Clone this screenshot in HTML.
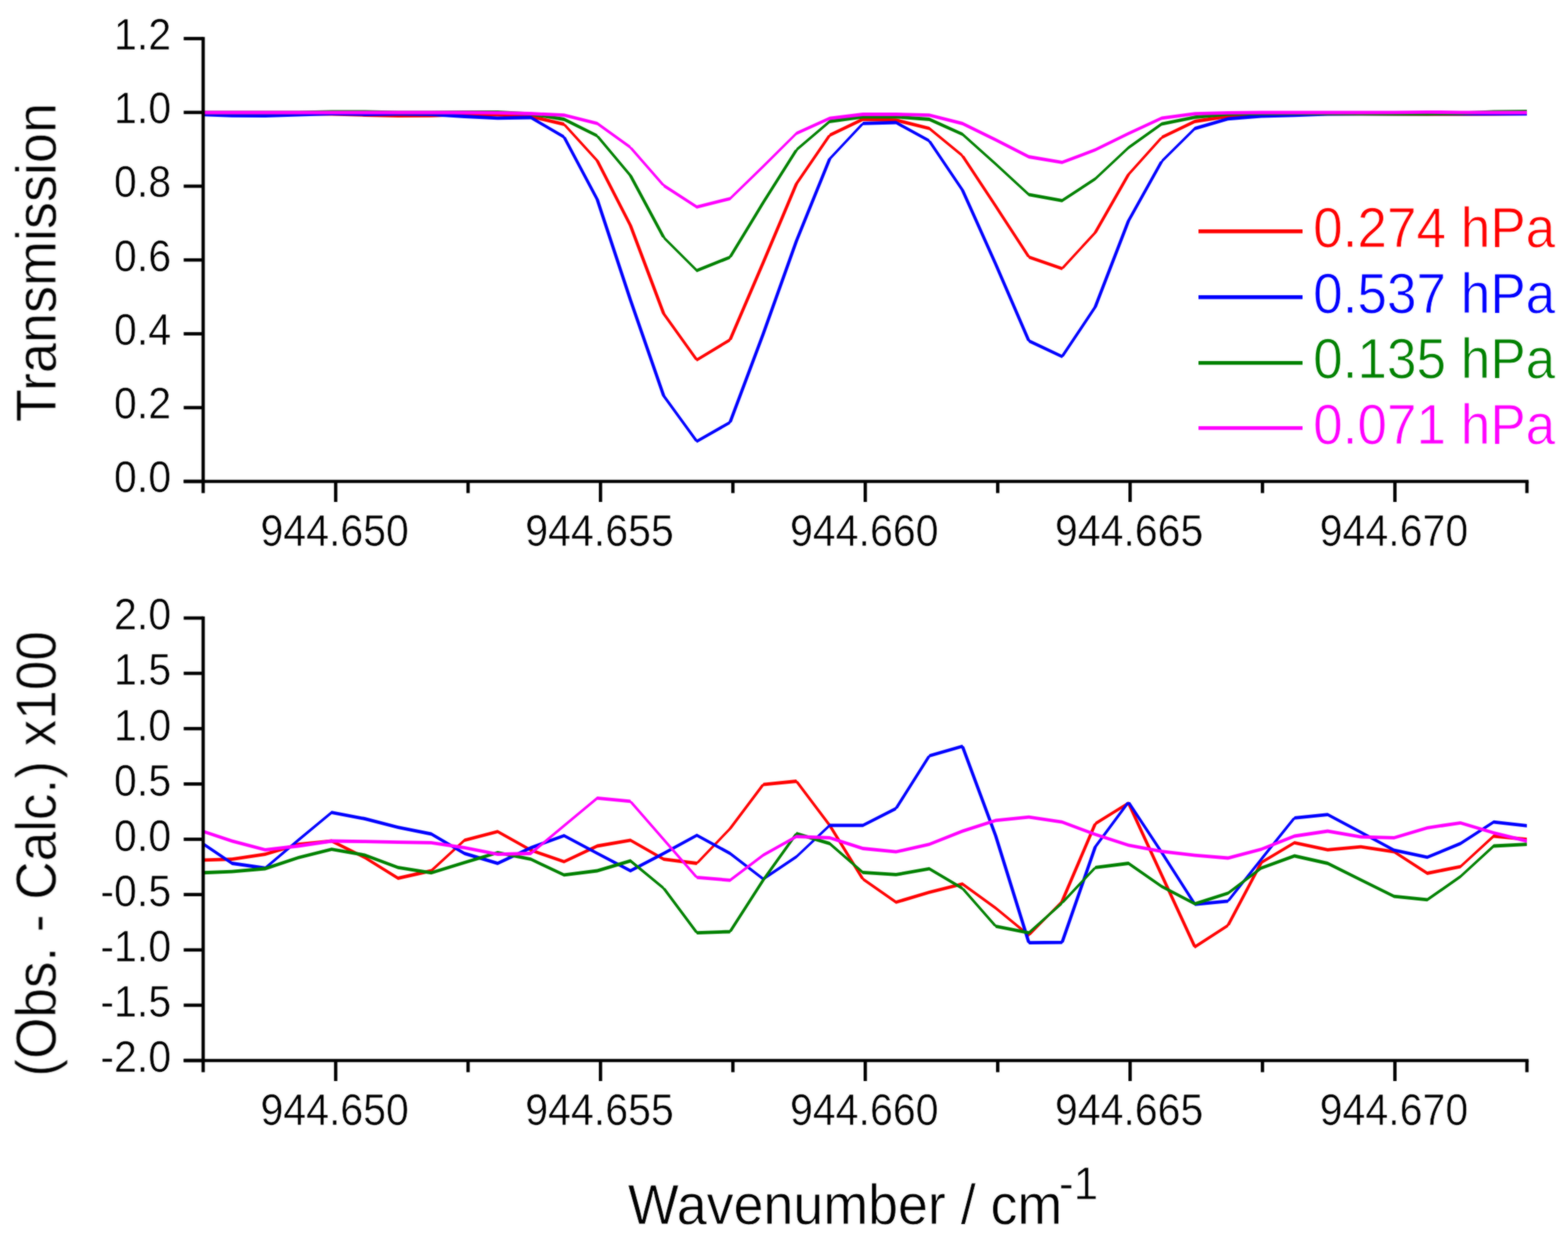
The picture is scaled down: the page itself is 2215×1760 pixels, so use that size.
<!DOCTYPE html>
<html lang="en"><head><meta charset="utf-8"><title>Transmission spectra and residuals</title>
<style>
html,body{margin:0;padding:0;background:#fff;}
body{width:2215px;height:1760px;overflow:hidden;}
svg{display:block;}
text{font-family:"Liberation Sans",sans-serif;}
text{paint-order:fill stroke;stroke:#fff;stroke-linejoin:round;}
.tick{font-size:58px;fill:#000;stroke-width:0.6px;}
.title{font-size:75px;fill:#000;stroke-width:0.8px;}
.leg{font-size:75px;stroke-width:1px;}
</style></head><body>
<svg width="2215" height="1760" viewBox="0 0 2215 1760" role="img" aria-label="Transmission spectra and fit residuals versus wavenumber">
<rect x="0" y="0" width="2215" height="1760" fill="#ffffff"/>
<defs>
<clipPath id="ct"><rect x="287.0" y="54.5" width="1870.0" height="625.5"/></clipPath>
<clipPath id="cb"><rect x="287.0" y="873.0" width="1870.0" height="625.0"/></clipPath>
<filter id="soft" filterUnits="userSpaceOnUse" x="0" y="0" width="2215" height="1760" color-interpolation-filters="sRGB"><feGaussianBlur in="SourceGraphic" stdDeviation="0.8" result="b"/><feComposite in="SourceGraphic" in2="b" operator="arithmetic" k1="0" k2="0.45" k3="0.55" k4="0"/></filter>
</defs>
<g filter="url(#soft)">
<g clip-path="url(#ct)">
<path fill="#ff0000" d="M280.9 157.6L327.8 157.6L327.8 162.4L280.9 162.4ZM327.8 157.6L374.7 157.6L374.7 162.4L327.8 162.4ZM374.7 157.6L421.6 158.1L421.6 162.9L374.7 162.4ZM421.6 158.1L468.5 158.6L468.5 163.4L421.6 162.9ZM468.5 158.6L515.4 160.1L515.4 164.9L468.5 163.4ZM515.4 160.1L562.3 161.1L562.3 165.9L515.4 164.9ZM562.3 161.1L609.2 160.9L609.2 165.7L562.3 165.9ZM609.2 160.9L656.1 159.1L656.1 163.9L609.2 165.7ZM656.1 159.1L703.0 159.6L703.0 164.4L656.1 163.9ZM703.0 159.6L749.9 162.1L749.9 166.9L703.0 164.4ZM749.9 162.1L796.8 173.1L796.8 177.9L749.9 166.9ZM799.2 175.5L846.1 226.9L841.3 226.9L794.4 175.5ZM795.1 175.5L796.8 173.8L798.5 175.5L796.8 177.2ZM846.1 226.9L893.0 318.5L888.2 318.5L841.3 226.9ZM893.0 318.5L939.9 443.0L935.1 443.0L888.2 318.5ZM939.9 443.0L986.8 508.4L982.0 508.4L935.1 443.0ZM984.4 506.0L1031.3 477.6L1031.3 482.4L984.4 510.8ZM982.7 508.4L984.4 506.7L986.1 508.4L984.4 510.1ZM1028.9 480.0L1075.8 370.8L1080.6 370.8L1033.7 480.0ZM1029.6 480.0L1031.3 478.3L1033.0 480.0L1031.3 481.7ZM1075.8 370.8L1122.7 259.6L1127.5 259.6L1080.6 370.8ZM1122.7 259.6L1169.6 191.0L1174.4 191.0L1127.5 259.6ZM1172.0 188.6L1218.9 166.1L1218.9 170.9L1172.0 193.4ZM1170.3 191.0L1172.0 189.3L1173.7 191.0L1172.0 192.7ZM1218.9 166.1L1265.8 167.3L1265.8 172.1L1218.9 170.9ZM1265.8 167.3L1312.7 179.0L1312.7 183.8L1265.8 172.1ZM1312.7 179.0L1359.6 217.5L1359.6 222.3L1312.7 183.8ZM1362.0 219.9L1408.9 291.1L1404.1 291.1L1357.2 219.9ZM1357.9 219.9L1359.6 218.2L1361.3 219.9L1359.6 221.6ZM1408.9 291.1L1455.8 363.1L1451.0 363.1L1404.1 291.1ZM1453.4 360.7L1500.3 377.0L1500.3 381.8L1453.4 365.5ZM1451.7 363.1L1453.4 361.4L1455.1 363.1L1453.4 364.8ZM1497.9 379.4L1544.8 328.5L1549.6 328.5L1502.7 379.4ZM1498.6 379.4L1500.3 377.7L1502.0 379.4L1500.3 381.1ZM1544.8 328.5L1591.7 246.6L1596.5 246.6L1549.6 328.5ZM1591.7 246.6L1638.6 194.2L1643.4 194.2L1596.5 246.6ZM1641.0 191.8L1687.9 169.1L1687.9 173.9L1641.0 196.6ZM1639.3 194.2L1641.0 192.5L1642.7 194.2L1641.0 195.9ZM1687.9 169.1L1734.8 161.9L1734.8 166.7L1687.9 173.9ZM1734.8 161.9L1781.7 159.4L1781.7 164.2L1734.8 166.7ZM1781.7 159.4L1828.6 158.4L1828.6 163.2L1781.7 164.2ZM1828.6 158.4L1875.5 158.4L1875.5 163.2L1828.6 163.2ZM1875.5 158.4L1922.4 158.4L1922.4 163.2L1875.5 163.2ZM1922.4 158.4L1969.3 158.6L1969.3 163.4L1922.4 163.2ZM1969.3 158.6L2016.2 158.9L2016.2 163.7L1969.3 163.4ZM2016.2 158.9L2063.1 158.9L2063.1 163.7L2016.2 163.7ZM2063.1 158.9L2110.0 158.6L2110.0 163.4L2063.1 163.7ZM2110.0 158.6L2156.9 158.1L2156.9 162.9L2110.0 163.4Z"/>
<path fill="#0000ff" d="M280.9 159.1L327.8 160.9L327.8 165.7L280.9 163.9ZM327.8 160.9L374.7 161.1L374.7 165.9L327.8 165.7ZM374.7 161.1L421.6 159.6L421.6 164.4L374.7 165.9ZM421.6 159.6L468.5 158.1L468.5 162.9L421.6 164.4ZM468.5 158.1L515.4 159.1L515.4 163.9L468.5 162.9ZM515.4 159.1L562.3 158.6L562.3 163.4L515.4 163.9ZM562.3 158.6L609.2 159.1L609.2 163.9L562.3 163.4ZM609.2 159.1L656.1 162.1L656.1 166.9L609.2 163.9ZM656.1 162.1L703.0 164.4L703.0 169.2L656.1 166.9ZM703.0 164.4L749.9 163.6L749.9 168.4L703.0 169.2ZM749.9 163.6L796.8 191.1L796.8 195.9L749.9 168.4ZM799.2 193.5L846.1 281.8L841.3 281.8L794.4 193.5ZM795.1 193.5L796.8 191.8L798.5 193.5L796.8 195.2ZM846.1 281.8L893.0 423.8L888.2 423.8L841.3 281.8ZM893.0 423.8L939.9 558.9L935.1 558.9L888.2 423.8ZM939.9 558.9L986.8 623.4L982.0 623.4L935.1 558.9ZM984.4 621.0L1031.3 594.2L1031.3 599.0L984.4 625.8ZM982.7 623.4L984.4 621.7L986.1 623.4L984.4 625.1ZM1028.9 596.6L1075.8 471.5L1080.6 471.5L1033.7 596.6ZM1029.6 596.6L1031.3 594.9L1033.0 596.6L1031.3 598.3ZM1075.8 471.5L1122.7 340.2L1127.5 340.2L1080.6 471.5ZM1122.7 340.2L1169.6 224.6L1174.4 224.6L1127.5 340.2ZM1169.6 224.6L1216.5 174.4L1221.3 174.4L1174.4 224.6ZM1218.9 172.0L1265.8 170.8L1265.8 175.6L1218.9 176.8ZM1217.2 174.4L1218.9 172.7L1220.6 174.4L1218.9 176.1ZM1265.8 170.8L1312.7 196.5L1312.7 201.3L1265.8 175.6ZM1315.1 198.9L1362.0 268.4L1357.2 268.4L1310.3 198.9ZM1311.0 198.9L1312.7 197.2L1314.4 198.9L1312.7 200.6ZM1362.0 268.4L1408.9 372.9L1404.1 372.9L1357.2 268.4ZM1408.9 372.9L1455.8 481.5L1451.0 481.5L1404.1 372.9ZM1453.4 479.1L1500.3 501.3L1500.3 506.1L1453.4 483.9ZM1451.7 481.5L1453.4 479.8L1455.1 481.5L1453.4 483.2ZM1497.9 503.7L1544.8 433.6L1549.6 433.6L1502.7 503.7ZM1498.6 503.7L1500.3 502.0L1502.0 503.7L1500.3 505.4ZM1544.8 433.6L1591.7 312.1L1596.5 312.1L1549.6 433.6ZM1591.7 312.1L1638.6 228.0L1643.4 228.0L1596.5 312.1ZM1641.0 225.6L1687.9 179.1L1687.9 183.9L1641.0 230.4ZM1639.3 228.0L1641.0 226.3L1642.7 228.0L1641.0 229.7ZM1687.9 179.1L1734.8 165.4L1734.8 170.2L1687.9 183.9ZM1734.8 165.4L1781.7 161.6L1781.7 166.4L1734.8 170.2ZM1781.7 161.6L1828.6 160.4L1828.6 165.2L1781.7 166.4ZM1828.6 160.4L1875.5 158.8L1875.5 163.6L1828.6 165.2ZM1875.5 158.8L1922.4 158.4L1922.4 163.2L1875.5 163.6ZM1922.4 158.4L1969.3 158.4L1969.3 163.2L1922.4 163.2ZM1969.3 158.4L2016.2 158.4L2016.2 163.2L1969.3 163.2ZM2016.2 158.4L2063.1 158.4L2063.1 163.2L2016.2 163.2ZM2063.1 158.4L2110.0 158.4L2110.0 163.2L2063.1 163.2ZM2110.0 158.4L2156.9 158.4L2156.9 163.2L2110.0 163.2Z"/>
<path fill="#008000" d="M280.9 156.6L327.8 156.6L327.8 161.4L280.9 161.4ZM327.8 156.6L374.7 156.6L374.7 161.4L327.8 161.4ZM374.7 156.6L421.6 156.4L421.6 161.2L374.7 161.4ZM421.6 156.4L468.5 155.4L468.5 160.2L421.6 161.2ZM468.5 155.4L515.4 155.4L515.4 160.2L468.5 160.2ZM515.4 155.4L562.3 156.6L562.3 161.4L515.4 160.2ZM562.3 156.6L609.2 156.6L609.2 161.4L562.3 161.4ZM609.2 156.6L656.1 156.1L656.1 160.9L609.2 161.4ZM656.1 156.1L703.0 156.1L703.0 160.9L656.1 160.9ZM703.0 156.1L749.9 158.6L749.9 163.4L703.0 160.9ZM749.9 158.6L796.8 166.1L796.8 170.9L749.9 163.4ZM796.8 166.1L843.7 189.5L843.7 194.3L796.8 170.9ZM846.1 191.9L893.0 247.9L888.2 247.9L841.3 191.9ZM842.0 191.9L843.7 190.2L845.4 191.9L843.7 193.6ZM893.0 247.9L939.9 335.3L935.1 335.3L888.2 247.9ZM937.5 332.9L984.4 379.8L984.4 384.6L937.5 337.7ZM935.8 335.3L937.5 333.6L939.2 335.3L937.5 337.0ZM984.4 379.8L1031.3 360.9L1031.3 365.7L984.4 384.6ZM1028.9 363.3L1075.8 286.1L1080.6 286.1L1033.7 363.3ZM1029.6 363.3L1031.3 361.6L1033.0 363.3L1031.3 365.0ZM1075.8 286.1L1122.7 211.7L1127.5 211.7L1080.6 286.1ZM1125.1 209.3L1172.0 169.2L1172.0 174.0L1125.1 214.1ZM1123.4 211.7L1125.1 210.0L1126.8 211.7L1125.1 213.4ZM1172.0 169.2L1218.9 162.6L1218.9 167.4L1172.0 174.0ZM1218.9 162.6L1265.8 162.6L1265.8 167.4L1218.9 167.4ZM1265.8 162.6L1312.7 166.1L1312.7 170.9L1265.8 167.4ZM1312.7 166.1L1359.6 187.2L1359.6 192.0L1312.7 170.9ZM1359.6 187.2L1406.5 229.2L1406.5 234.0L1359.6 192.0ZM1406.5 229.2L1453.4 272.4L1453.4 277.2L1406.5 234.0ZM1453.4 272.4L1500.3 281.0L1500.3 285.8L1453.4 277.2ZM1500.3 281.0L1547.2 250.2L1547.2 255.0L1500.3 285.8ZM1547.2 250.2L1594.1 206.2L1594.1 211.0L1547.2 255.0ZM1594.1 206.2L1641.0 172.8L1641.0 177.6L1594.1 211.0ZM1641.0 172.8L1687.9 163.2L1687.9 168.0L1641.0 177.6ZM1687.9 163.2L1734.8 158.8L1734.8 163.6L1687.9 168.0ZM1734.8 158.8L1781.7 157.9L1781.7 162.7L1734.8 163.6ZM1781.7 157.9L1828.6 157.6L1828.6 162.4L1781.7 162.7ZM1828.6 157.6L1875.5 157.9L1875.5 162.7L1828.6 162.4ZM1875.5 157.9L1922.4 158.1L1922.4 162.9L1875.5 162.7ZM1922.4 158.1L1969.3 158.4L1969.3 163.2L1922.4 162.9ZM1969.3 158.4L2016.2 158.4L2016.2 163.2L1969.3 163.2ZM2016.2 158.4L2063.1 157.6L2063.1 162.4L2016.2 163.2ZM2063.1 157.6L2110.0 155.4L2110.0 160.2L2063.1 162.4ZM2110.0 155.4L2156.9 155.1L2156.9 159.9L2110.0 160.2Z"/>
<path fill="#ff00ff" d="M280.9 156.6L327.8 156.6L327.8 161.4L280.9 161.4ZM327.8 156.6L374.7 156.6L374.7 161.4L327.8 161.4ZM374.7 156.6L421.6 156.6L421.6 161.4L374.7 161.4ZM421.6 156.6L468.5 156.6L468.5 161.4L421.6 161.4ZM468.5 156.6L515.4 156.6L515.4 161.4L468.5 161.4ZM515.4 156.6L562.3 156.6L562.3 161.4L515.4 161.4ZM562.3 156.6L609.2 156.6L609.2 161.4L562.3 161.4ZM609.2 156.6L656.1 156.6L656.1 161.4L609.2 161.4ZM656.1 156.6L703.0 156.9L703.0 161.7L656.1 161.4ZM703.0 156.9L749.9 158.1L749.9 162.9L703.0 161.7ZM749.9 158.1L796.8 160.3L796.8 165.1L749.9 162.9ZM796.8 160.3L843.7 172.0L843.7 176.8L796.8 165.1ZM843.7 172.0L890.6 205.8L890.6 210.6L843.7 176.8ZM893.0 208.2L939.9 262.0L935.1 262.0L888.2 208.2ZM888.9 208.2L890.6 206.5L892.3 208.2L890.6 209.9ZM937.5 259.6L984.4 289.9L984.4 294.7L937.5 264.4ZM935.8 262.0L937.5 260.3L939.2 262.0L937.5 263.7ZM984.4 289.9L1031.3 278.2L1031.3 283.0L984.4 294.7ZM1031.3 278.2L1078.2 232.6L1078.2 237.4L1031.3 283.0ZM1078.2 232.6L1125.1 186.0L1125.1 190.8L1078.2 237.4ZM1125.1 186.0L1172.0 164.8L1172.0 169.6L1125.1 190.8ZM1172.0 164.8L1218.9 159.1L1218.9 163.9L1172.0 169.6ZM1218.9 159.1L1265.8 159.1L1265.8 163.9L1218.9 163.9ZM1265.8 159.1L1312.7 160.3L1312.7 165.1L1265.8 163.9ZM1312.7 160.3L1359.6 172.1L1359.6 176.9L1312.7 165.1ZM1359.6 172.1L1406.5 195.1L1406.5 199.9L1359.6 176.9ZM1406.5 195.1L1453.4 219.1L1453.4 223.9L1406.5 199.9ZM1453.4 219.1L1500.3 226.9L1500.3 231.7L1453.4 223.9ZM1500.3 226.9L1547.2 209.3L1547.2 214.1L1500.3 231.7ZM1547.2 209.3L1594.1 186.3L1594.1 191.1L1547.2 214.1ZM1594.1 186.3L1641.0 164.5L1641.0 169.3L1594.1 191.1ZM1641.0 164.5L1687.9 158.3L1687.9 163.1L1641.0 169.3ZM1687.9 158.3L1734.8 157.0L1734.8 161.8L1687.9 163.1ZM1734.8 157.0L1781.7 156.6L1781.7 161.4L1734.8 161.8ZM1781.7 156.6L1828.6 156.6L1828.6 161.4L1781.7 161.4ZM1828.6 156.6L1875.5 156.6L1875.5 161.4L1828.6 161.4ZM1875.5 156.6L1922.4 156.6L1922.4 161.4L1875.5 161.4ZM1922.4 156.6L1969.3 156.4L1969.3 161.2L1922.4 161.4ZM1969.3 156.4L2016.2 155.9L2016.2 160.7L1969.3 161.2ZM2016.2 155.9L2063.1 156.4L2063.1 161.2L2016.2 160.7ZM2063.1 156.4L2110.0 156.6L2110.0 161.4L2063.1 161.2ZM2110.0 156.6L2156.9 156.6L2156.9 161.4L2110.0 161.4Z"/>
</g>
<g clip-path="url(#cb)">
<path fill="#ff0000" d="M280.9 1212.6L327.8 1211.3L327.8 1216.1L280.9 1217.4ZM327.8 1211.3L374.7 1204.3L374.7 1209.1L327.8 1216.1ZM374.7 1204.3L421.6 1190.3L421.6 1195.1L374.7 1209.1ZM421.6 1190.3L468.5 1185.6L468.5 1190.4L421.6 1195.1ZM468.5 1185.6L515.4 1208.9L515.4 1213.7L468.5 1190.4ZM515.4 1208.9L562.3 1238.1L562.3 1242.9L515.4 1213.7ZM562.3 1238.1L609.2 1227.6L609.2 1232.4L562.3 1242.9ZM609.2 1227.6L656.1 1184.4L656.1 1189.2L609.2 1232.4ZM656.1 1184.4L703.0 1172.3L703.0 1177.1L656.1 1189.2ZM703.0 1172.3L749.9 1198.4L749.9 1203.2L703.0 1177.1ZM749.9 1198.4L796.8 1214.8L796.8 1219.6L749.9 1203.2ZM796.8 1214.8L843.7 1192.6L843.7 1197.4L796.8 1219.6ZM843.7 1192.6L890.6 1184.4L890.6 1189.2L843.7 1197.4ZM890.6 1184.4L937.5 1211.3L937.5 1216.1L890.6 1189.2ZM937.5 1211.3L984.4 1217.1L984.4 1221.9L937.5 1216.1ZM982.0 1219.5L1028.9 1170.5L1033.7 1170.5L986.8 1219.5ZM982.7 1219.5L984.4 1217.8L986.1 1219.5L984.4 1221.2ZM1028.9 1170.5L1075.8 1108.1L1080.6 1108.1L1033.7 1170.5ZM1078.2 1105.7L1125.1 1101.1L1125.1 1105.9L1078.2 1110.5ZM1076.5 1108.1L1078.2 1106.4L1079.9 1108.1L1078.2 1109.8ZM1127.5 1103.5L1174.4 1165.8L1169.6 1165.8L1122.7 1103.5ZM1123.4 1103.5L1125.1 1101.8L1126.8 1103.5L1125.1 1105.2ZM1174.4 1165.8L1221.3 1241.7L1216.5 1241.7L1169.6 1165.8ZM1218.9 1239.3L1265.8 1272.0L1265.8 1276.8L1218.9 1244.1ZM1217.2 1241.7L1218.9 1240.0L1220.6 1241.7L1218.9 1243.4ZM1265.8 1272.0L1312.7 1258.0L1312.7 1262.8L1265.8 1276.8ZM1312.7 1258.0L1359.6 1246.3L1359.6 1251.1L1312.7 1262.8ZM1359.6 1246.3L1406.5 1280.2L1406.5 1285.0L1359.6 1251.1ZM1406.5 1280.2L1453.4 1318.7L1453.4 1323.5L1406.5 1285.0ZM1451.0 1321.1L1497.9 1273.2L1502.7 1273.2L1455.8 1321.1ZM1451.7 1321.1L1453.4 1319.4L1455.1 1321.1L1453.4 1322.8ZM1497.9 1273.2L1544.8 1163.5L1549.6 1163.5L1502.7 1273.2ZM1547.2 1161.1L1594.1 1131.9L1594.1 1136.7L1547.2 1165.9ZM1545.5 1163.5L1547.2 1161.8L1548.9 1163.5L1547.2 1165.2ZM1596.5 1134.3L1643.4 1235.9L1638.6 1235.9L1591.7 1134.3ZM1592.4 1134.3L1594.1 1132.6L1595.8 1134.3L1594.1 1136.0ZM1643.4 1235.9L1690.3 1337.5L1685.5 1337.5L1638.6 1235.9ZM1687.9 1335.1L1734.8 1304.7L1734.8 1309.5L1687.9 1339.9ZM1686.2 1337.5L1687.9 1335.8L1689.6 1337.5L1687.9 1339.2ZM1732.4 1307.1L1779.3 1218.4L1784.1 1218.4L1737.2 1307.1ZM1733.1 1307.1L1734.8 1305.4L1736.5 1307.1L1734.8 1308.8ZM1781.7 1216.0L1828.6 1187.9L1828.6 1192.7L1781.7 1220.8ZM1780.0 1218.4L1781.7 1216.7L1783.4 1218.4L1781.7 1220.1ZM1828.6 1187.9L1875.5 1198.0L1875.5 1202.8L1828.6 1192.7ZM1875.5 1198.0L1922.4 1193.8L1922.4 1198.6L1875.5 1202.8ZM1922.4 1193.8L1969.3 1200.8L1969.3 1205.6L1922.4 1198.6ZM1969.3 1200.8L2016.2 1231.1L2016.2 1235.9L1969.3 1205.6ZM2016.2 1231.1L2063.1 1221.8L2063.1 1226.6L2016.2 1235.9ZM2063.1 1221.8L2110.0 1178.6L2110.0 1183.4L2063.1 1226.6ZM2110.0 1178.6L2156.9 1183.3L2156.9 1188.1L2110.0 1183.4Z"/>
<path fill="#0000ff" d="M280.9 1185.5L327.8 1217.1L327.8 1221.9L280.9 1190.3ZM327.8 1217.1L374.7 1223.7L374.7 1228.5L327.8 1221.9ZM374.7 1223.7L421.6 1184.1L421.6 1188.9L374.7 1228.5ZM421.6 1184.1L468.5 1145.2L468.5 1150.0L421.6 1188.9ZM468.5 1145.2L515.4 1154.1L515.4 1158.9L468.5 1150.0ZM515.4 1154.1L562.3 1166.2L562.3 1171.0L515.4 1158.9ZM562.3 1166.2L609.2 1175.6L609.2 1180.4L562.3 1171.0ZM609.2 1175.6L656.1 1203.1L656.1 1207.9L609.2 1180.4ZM656.1 1203.1L703.0 1217.1L703.0 1221.9L656.1 1207.9ZM703.0 1217.1L749.9 1195.1L749.9 1199.9L703.0 1221.9ZM749.9 1195.1L796.8 1177.9L796.8 1182.7L749.9 1199.9ZM796.8 1177.9L843.7 1202.9L843.7 1207.7L796.8 1182.7ZM843.7 1202.9L890.6 1227.6L890.6 1232.4L843.7 1207.7ZM890.6 1227.6L937.5 1203.1L937.5 1207.9L890.6 1232.4ZM937.5 1203.1L984.4 1177.4L984.4 1182.2L937.5 1207.9ZM984.4 1177.4L1031.3 1203.1L1031.3 1207.9L984.4 1182.2ZM1031.3 1203.1L1078.2 1239.3L1078.2 1244.1L1031.3 1207.9ZM1078.2 1239.3L1125.1 1207.8L1125.1 1212.6L1078.2 1244.1ZM1125.1 1207.8L1172.0 1163.4L1172.0 1168.2L1125.1 1212.6ZM1172.0 1163.4L1218.9 1163.4L1218.9 1168.2L1172.0 1168.2ZM1218.9 1163.4L1265.8 1139.6L1265.8 1144.4L1218.9 1168.2ZM1263.4 1142.0L1310.3 1067.7L1315.1 1067.7L1268.2 1142.0ZM1264.1 1142.0L1265.8 1140.3L1267.5 1142.0L1265.8 1143.7ZM1312.7 1065.3L1359.6 1051.8L1359.6 1056.6L1312.7 1070.1ZM1311.0 1067.7L1312.7 1066.0L1314.4 1067.7L1312.7 1069.4ZM1362.0 1054.2L1408.9 1180.5L1404.1 1180.5L1357.2 1054.2ZM1357.9 1054.2L1359.6 1052.5L1361.3 1054.2L1359.6 1055.9ZM1408.9 1180.5L1455.8 1331.6L1451.0 1331.6L1404.1 1180.5ZM1453.4 1329.2L1500.3 1328.8L1500.3 1333.6L1453.4 1334.0ZM1451.7 1331.6L1453.4 1329.9L1455.1 1331.6L1453.4 1333.3ZM1497.9 1331.2L1544.8 1196.2L1549.6 1196.2L1502.7 1331.2ZM1498.6 1331.2L1500.3 1329.5L1502.0 1331.2L1500.3 1332.9ZM1544.8 1196.2L1591.7 1133.1L1596.5 1133.1L1549.6 1196.2ZM1596.5 1133.1L1643.4 1204.0L1638.6 1204.0L1591.7 1133.1ZM1643.4 1204.0L1690.3 1277.3L1685.5 1277.3L1638.6 1204.0ZM1687.9 1274.9L1734.8 1270.4L1734.8 1275.2L1687.9 1279.7ZM1686.2 1277.3L1687.9 1275.6L1689.6 1277.3L1687.9 1279.0ZM1732.4 1272.8L1779.3 1213.7L1784.1 1213.7L1737.2 1272.8ZM1733.1 1272.8L1734.8 1271.1L1736.5 1272.8L1734.8 1274.5ZM1779.3 1213.7L1826.2 1155.3L1831.0 1155.3L1784.1 1213.7ZM1828.6 1152.9L1875.5 1148.2L1875.5 1153.0L1828.6 1157.7ZM1826.9 1155.3L1828.6 1153.6L1830.3 1155.3L1828.6 1157.0ZM1875.5 1148.2L1922.4 1173.2L1922.4 1178.0L1875.5 1153.0ZM1922.4 1173.2L1969.3 1198.4L1969.3 1203.2L1922.4 1178.0ZM1969.3 1198.4L2016.2 1208.5L2016.2 1213.3L1969.3 1203.2ZM2016.2 1208.5L2063.1 1189.1L2063.1 1193.9L2016.2 1213.3ZM2063.1 1189.1L2110.0 1158.7L2110.0 1163.5L2063.1 1193.9ZM2110.0 1158.7L2156.9 1163.9L2156.9 1168.7L2110.0 1163.5Z"/>
<path fill="#008000" d="M280.9 1230.6L327.8 1228.8L327.8 1233.6L280.9 1235.4ZM327.8 1228.8L374.7 1224.6L374.7 1229.4L327.8 1233.6ZM374.7 1224.6L421.6 1208.9L421.6 1213.7L374.7 1229.4ZM421.6 1208.9L468.5 1197.3L468.5 1202.1L421.6 1213.7ZM468.5 1197.3L515.4 1205.4L515.4 1210.2L468.5 1202.1ZM515.4 1205.4L562.3 1223.0L562.3 1227.8L515.4 1210.2ZM562.3 1223.0L609.2 1230.4L609.2 1235.2L562.3 1227.8ZM609.2 1230.4L656.1 1216.0L656.1 1220.8L609.2 1235.2ZM656.1 1216.0L703.0 1201.9L703.0 1206.7L656.1 1220.8ZM703.0 1201.9L749.9 1211.3L749.9 1216.1L703.0 1206.7ZM749.9 1211.3L796.8 1233.5L796.8 1238.3L749.9 1216.1ZM796.8 1233.5L843.7 1227.6L843.7 1232.4L796.8 1238.3ZM843.7 1227.6L890.6 1213.6L890.6 1218.4L843.7 1232.4ZM890.6 1213.6L937.5 1252.2L937.5 1257.0L890.6 1218.4ZM939.9 1254.6L986.8 1317.6L982.0 1317.6L935.1 1254.6ZM935.8 1254.6L937.5 1252.9L939.2 1254.6L937.5 1256.3ZM984.4 1315.2L1031.3 1313.6L1031.3 1318.4L984.4 1320.0ZM982.7 1317.6L984.4 1315.9L986.1 1317.6L984.4 1319.3ZM1028.9 1316.0L1075.8 1242.9L1080.6 1242.9L1033.7 1316.0ZM1029.6 1316.0L1031.3 1314.3L1033.0 1316.0L1031.3 1317.7ZM1075.8 1242.9L1122.7 1177.5L1127.5 1177.5L1080.6 1242.9ZM1125.1 1175.1L1172.0 1189.1L1172.0 1193.9L1125.1 1179.9ZM1123.4 1177.5L1125.1 1175.8L1126.8 1177.5L1125.1 1179.2ZM1172.0 1189.1L1218.9 1230.0L1218.9 1234.8L1172.0 1193.9ZM1218.9 1230.0L1265.8 1233.0L1265.8 1237.8L1218.9 1234.8ZM1265.8 1233.0L1312.7 1224.8L1312.7 1229.6L1265.8 1237.8ZM1312.7 1224.8L1359.6 1252.4L1359.6 1257.2L1312.7 1229.6ZM1362.0 1254.8L1408.9 1308.3L1404.1 1308.3L1357.2 1254.8ZM1357.9 1254.8L1359.6 1253.1L1361.3 1254.8L1359.6 1256.5ZM1406.5 1305.9L1453.4 1315.2L1453.4 1320.0L1406.5 1310.7ZM1404.8 1308.3L1406.5 1306.6L1408.2 1308.3L1406.5 1310.0ZM1453.4 1315.2L1500.3 1273.2L1500.3 1278.0L1453.4 1320.0ZM1497.9 1275.6L1544.8 1225.4L1549.6 1225.4L1502.7 1275.6ZM1498.6 1275.6L1500.3 1273.9L1502.0 1275.6L1500.3 1277.3ZM1547.2 1223.0L1594.1 1217.1L1594.1 1221.9L1547.2 1227.8ZM1545.5 1225.4L1547.2 1223.7L1548.9 1225.4L1547.2 1227.1ZM1594.1 1217.1L1641.0 1249.8L1641.0 1254.6L1594.1 1221.9ZM1641.0 1249.8L1687.9 1274.3L1687.9 1279.1L1641.0 1254.6ZM1687.9 1274.3L1734.8 1259.2L1734.8 1264.0L1687.9 1279.1ZM1734.8 1259.2L1781.7 1223.7L1781.7 1228.5L1734.8 1264.0ZM1781.7 1223.7L1828.6 1206.6L1828.6 1211.4L1781.7 1228.5ZM1828.6 1206.6L1875.5 1217.1L1875.5 1221.9L1828.6 1211.4ZM1875.5 1217.1L1922.4 1240.5L1922.4 1245.3L1875.5 1221.9ZM1922.4 1240.5L1969.3 1263.8L1969.3 1268.6L1922.4 1245.3ZM1969.3 1263.8L2016.2 1268.5L2016.2 1273.3L1969.3 1268.6ZM2016.2 1268.5L2063.1 1235.8L2063.1 1240.6L2016.2 1273.3ZM2063.1 1235.8L2110.0 1192.6L2110.0 1197.4L2063.1 1240.6ZM2110.0 1192.6L2156.9 1190.3L2156.9 1195.1L2110.0 1197.4Z"/>
<path fill="#ff00ff" d="M280.9 1169.9L327.8 1185.6L327.8 1190.4L280.9 1174.7ZM327.8 1185.6L374.7 1198.0L374.7 1202.8L327.8 1190.4ZM374.7 1198.0L421.6 1192.6L421.6 1197.4L374.7 1202.8ZM421.6 1192.6L468.5 1185.6L468.5 1190.4L421.6 1197.4ZM468.5 1185.6L515.4 1186.3L515.4 1191.1L468.5 1190.4ZM515.4 1186.3L562.3 1187.2L562.3 1192.0L515.4 1191.1ZM562.3 1187.2L609.2 1187.9L609.2 1192.7L562.3 1192.0ZM609.2 1187.9L656.1 1194.9L656.1 1199.7L609.2 1192.7ZM656.1 1194.9L703.0 1204.3L703.0 1209.1L656.1 1199.7ZM703.0 1204.3L749.9 1203.1L749.9 1207.9L703.0 1209.1ZM749.9 1203.1L796.8 1163.9L796.8 1168.7L749.9 1207.9ZM796.8 1163.9L843.7 1124.9L843.7 1129.7L796.8 1168.7ZM843.7 1124.9L890.6 1129.5L890.6 1134.3L843.7 1129.7ZM893.0 1131.9L939.9 1185.7L935.1 1185.7L888.2 1131.9ZM888.9 1131.9L890.6 1130.2L892.3 1131.9L890.6 1133.6ZM939.9 1185.7L986.8 1239.4L982.0 1239.4L935.1 1185.7ZM984.4 1237.0L1031.3 1240.9L1031.3 1245.7L984.4 1241.8ZM982.7 1239.4L984.4 1237.7L986.1 1239.4L984.4 1241.1ZM1031.3 1240.9L1078.2 1205.4L1078.2 1210.2L1031.3 1245.7ZM1078.2 1205.4L1125.1 1179.3L1125.1 1184.1L1078.2 1210.2ZM1125.1 1179.3L1172.0 1180.9L1172.0 1185.7L1125.1 1184.1ZM1172.0 1180.9L1218.9 1196.1L1218.9 1200.9L1172.0 1185.7ZM1218.9 1196.1L1265.8 1200.8L1265.8 1205.6L1218.9 1200.9ZM1265.8 1200.8L1312.7 1190.3L1312.7 1195.1L1265.8 1205.6ZM1312.7 1190.3L1359.6 1171.6L1359.6 1176.4L1312.7 1195.1ZM1359.6 1171.6L1406.5 1156.4L1406.5 1161.2L1359.6 1176.4ZM1406.5 1156.4L1453.4 1151.7L1453.4 1156.5L1406.5 1161.2ZM1453.4 1151.7L1500.3 1158.7L1500.3 1163.5L1453.4 1156.5ZM1500.3 1158.7L1547.2 1176.3L1547.2 1181.1L1500.3 1163.5ZM1547.2 1176.3L1594.1 1191.4L1594.1 1196.2L1547.2 1181.1ZM1594.1 1191.4L1641.0 1200.3L1641.0 1205.1L1594.1 1196.2ZM1641.0 1200.3L1687.9 1205.8L1687.9 1210.6L1641.0 1205.1ZM1687.9 1205.8L1734.8 1209.6L1734.8 1214.4L1687.9 1210.6ZM1734.8 1209.6L1781.7 1197.3L1781.7 1202.1L1734.8 1214.4ZM1781.7 1197.3L1828.6 1178.6L1828.6 1183.4L1781.7 1202.1ZM1828.6 1178.6L1875.5 1171.6L1875.5 1176.4L1828.6 1183.4ZM1875.5 1171.6L1922.4 1179.8L1922.4 1184.6L1875.5 1176.4ZM1922.4 1179.8L1969.3 1180.9L1969.3 1185.7L1922.4 1184.6ZM1969.3 1180.9L2016.2 1166.9L2016.2 1171.7L1969.3 1185.7ZM2016.2 1166.9L2063.1 1159.9L2063.1 1164.7L2016.2 1171.7ZM2063.1 1159.9L2110.0 1173.9L2110.0 1178.7L2063.1 1164.7ZM2110.0 1173.9L2156.9 1185.6L2156.9 1190.4L2110.0 1178.7Z"/>
</g>
<g stroke="#000" stroke-width="4.7" fill="none" stroke-linecap="butt">
<line x1="287.0" y1="52.15" x2="287.0" y2="696.5"/>
<line x1="259.5" y1="680.0" x2="2159.35" y2="680.0"/>
<line x1="259.5" y1="680.0" x2="287.0" y2="680.0"/>
<line x1="259.5" y1="575.8" x2="287.0" y2="575.8"/>
<line x1="259.5" y1="471.5" x2="287.0" y2="471.5"/>
<line x1="259.5" y1="367.2" x2="287.0" y2="367.2"/>
<line x1="259.5" y1="263.0" x2="287.0" y2="263.0"/>
<line x1="259.5" y1="158.8" x2="287.0" y2="158.8"/>
<line x1="259.5" y1="54.5" x2="287.0" y2="54.5"/>
<line x1="474.2" y1="680.0" x2="474.2" y2="709.0"/>
<line x1="661.2" y1="680.0" x2="661.2" y2="696.5"/>
<line x1="848.3" y1="680.0" x2="848.3" y2="709.0"/>
<line x1="1035.3" y1="680.0" x2="1035.3" y2="696.5"/>
<line x1="1222.3" y1="680.0" x2="1222.3" y2="709.0"/>
<line x1="1409.4" y1="680.0" x2="1409.4" y2="696.5"/>
<line x1="1596.4" y1="680.0" x2="1596.4" y2="709.0"/>
<line x1="1783.4" y1="680.0" x2="1783.4" y2="696.5"/>
<line x1="1970.5" y1="680.0" x2="1970.5" y2="709.0"/>
<line x1="2157.0" y1="680.0" x2="2157.0" y2="696.5"/>
</g>
<text class="tick" transform="translate(241.7,695.3) scale(1,1.08)" text-anchor="end">0.0</text>
<text class="tick" transform="translate(241.7,591.0) scale(1,1.08)" text-anchor="end">0.2</text>
<text class="tick" transform="translate(241.7,486.8) scale(1,1.08)" text-anchor="end">0.4</text>
<text class="tick" transform="translate(241.7,382.6) scale(1,1.08)" text-anchor="end">0.6</text>
<text class="tick" transform="translate(241.7,278.3) scale(1,1.08)" text-anchor="end">0.8</text>
<text class="tick" transform="translate(241.7,174.1) scale(1,1.08)" text-anchor="end">1.0</text>
<text class="tick" transform="translate(241.7,69.8) scale(1,1.08)" text-anchor="end">1.2</text>
<text class="tick" transform="translate(472.8,771.3) scale(1,1.08)" text-anchor="middle">944.650</text>
<text class="tick" transform="translate(846.9,771.3) scale(1,1.08)" text-anchor="middle">944.655</text>
<text class="tick" transform="translate(1220.9,771.3) scale(1,1.08)" text-anchor="middle">944.660</text>
<text class="tick" transform="translate(1595.0,771.3) scale(1,1.08)" text-anchor="middle">944.665</text>
<text class="tick" transform="translate(1969.1,771.3) scale(1,1.08)" text-anchor="middle">944.670</text>
<g stroke="#000" stroke-width="4.7" fill="none" stroke-linecap="butt">
<line x1="287.0" y1="870.65" x2="287.0" y2="1514.5"/>
<line x1="259.5" y1="1498.0" x2="2159.35" y2="1498.0"/>
<line x1="259.5" y1="1498.0" x2="287.0" y2="1498.0"/>
<line x1="259.5" y1="1419.9" x2="287.0" y2="1419.9"/>
<line x1="259.5" y1="1341.8" x2="287.0" y2="1341.8"/>
<line x1="259.5" y1="1263.6" x2="287.0" y2="1263.6"/>
<line x1="259.5" y1="1185.5" x2="287.0" y2="1185.5"/>
<line x1="259.5" y1="1107.4" x2="287.0" y2="1107.4"/>
<line x1="259.5" y1="1029.2" x2="287.0" y2="1029.2"/>
<line x1="259.5" y1="951.1" x2="287.0" y2="951.1"/>
<line x1="259.5" y1="873.0" x2="287.0" y2="873.0"/>
<line x1="474.2" y1="1498.0" x2="474.2" y2="1527.0"/>
<line x1="661.2" y1="1498.0" x2="661.2" y2="1514.5"/>
<line x1="848.3" y1="1498.0" x2="848.3" y2="1527.0"/>
<line x1="1035.3" y1="1498.0" x2="1035.3" y2="1514.5"/>
<line x1="1222.3" y1="1498.0" x2="1222.3" y2="1527.0"/>
<line x1="1409.4" y1="1498.0" x2="1409.4" y2="1514.5"/>
<line x1="1596.4" y1="1498.0" x2="1596.4" y2="1527.0"/>
<line x1="1783.4" y1="1498.0" x2="1783.4" y2="1514.5"/>
<line x1="1970.5" y1="1498.0" x2="1970.5" y2="1527.0"/>
<line x1="2157.0" y1="1498.0" x2="2157.0" y2="1514.5"/>
</g>
<text class="tick" transform="translate(241.7,1514.3) scale(1,1.08)" text-anchor="end">-2.0</text>
<text class="tick" transform="translate(241.7,1436.2) scale(1,1.08)" text-anchor="end">-1.5</text>
<text class="tick" transform="translate(241.7,1358.0) scale(1,1.08)" text-anchor="end">-1.0</text>
<text class="tick" transform="translate(241.7,1279.9) scale(1,1.08)" text-anchor="end">-0.5</text>
<text class="tick" transform="translate(241.7,1201.8) scale(1,1.08)" text-anchor="end">0.0</text>
<text class="tick" transform="translate(241.7,1123.7) scale(1,1.08)" text-anchor="end">0.5</text>
<text class="tick" transform="translate(241.7,1045.5) scale(1,1.08)" text-anchor="end">1.0</text>
<text class="tick" transform="translate(241.7,967.4) scale(1,1.08)" text-anchor="end">1.5</text>
<text class="tick" transform="translate(241.7,889.3) scale(1,1.08)" text-anchor="end">2.0</text>
<text class="tick" transform="translate(472.8,1589.3) scale(1,1.08)" text-anchor="middle">944.650</text>
<text class="tick" transform="translate(846.9,1589.3) scale(1,1.08)" text-anchor="middle">944.655</text>
<text class="tick" transform="translate(1220.9,1589.3) scale(1,1.08)" text-anchor="middle">944.660</text>
<text class="tick" transform="translate(1595.0,1589.3) scale(1,1.08)" text-anchor="middle">944.665</text>
<text class="tick" transform="translate(1969.1,1589.3) scale(1,1.08)" text-anchor="middle">944.670</text>
<text class="title" style="font-size:76.3px" transform="translate(78.3,370.8) rotate(-90) scale(1,1.05)" text-anchor="middle">Transmission</text>
<text class="title" transform="translate(78,1206.2) rotate(-90) scale(1,1.05)" text-anchor="middle">(Obs. - Calc.) x100</text>
<text class="title" style="font-size:76px" transform="translate(887,1729.0) scale(1,1.05)">Wavenumber / cm<tspan style="font-size:62px" dx="-4.6" dy="-33.8">-1</tspan></text>
<line x1="1693" y1="326.8" x2="1840" y2="326.8" stroke="#ff0000" stroke-width="5.4"/>
<text class="leg" transform="translate(1855,348.5) scale(1,1.055)" fill="#ff0000">0.274 hPa</text>
<line x1="1693" y1="419.8" x2="1840" y2="419.8" stroke="#0000ff" stroke-width="5.4"/>
<text class="leg" transform="translate(1855,441.5) scale(1,1.055)" fill="#0000ff">0.537 hPa</text>
<line x1="1693" y1="512.6" x2="1840" y2="512.6" stroke="#008000" stroke-width="5.4"/>
<text class="leg" transform="translate(1855,534.1) scale(1,1.055)" fill="#008000">0.135 hPa</text>
<line x1="1693" y1="604.6" x2="1840" y2="604.6" stroke="#ff00ff" stroke-width="5.4"/>
<text class="leg" transform="translate(1855,626.9) scale(1,1.055)" fill="#ff00ff">0.071 hPa</text>
</g>
</svg>
</body></html>
